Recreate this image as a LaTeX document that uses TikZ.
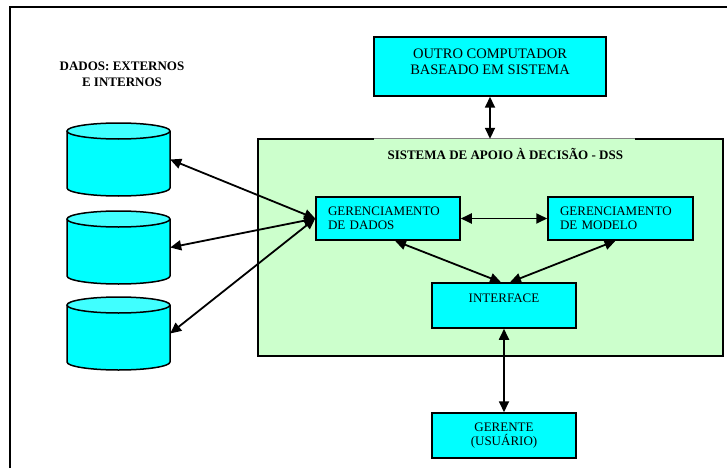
\documentclass[tikz,border=0pt]{standalone}
\usepackage{fontspec}
\setmainfont{Liberation Serif}
\usetikzlibrary{arrows.meta}

\definecolor{ciano}{HTML}{00FFFF}
\definecolor{cianoclaro}{HTML}{40FFFF}
\definecolor{verdeclaro}{HTML}{CCFFCC}

\tikzset{
  caixa/.style={draw, fill=ciano, line width=1.5pt, inner sep=0pt,
    font=\fontsize{13}{14}\selectfont},
  seta/.style={line width=1.8pt,
    {Triangle[length=11pt,width=10pt]}-{Triangle[length=11pt,width=10pt]}},
}

\begin{document}
\begin{tikzpicture}[x=1pt,y=-1pt]
\useasboundingbox (0,0) rectangle (727,468);
% Moldura
\draw[line width=1.5pt] (10,468) -- (10,7) -- (727,7);

% Sistema de apoio (fundo verde)
\node[fill=verdeclaro, minimum width=465, minimum height=217, inner sep=0pt] (dss) at (490.5,247.5) {};
\draw[line width=1.5pt] ([xshift=116]dss.north west) -- (dss.north west) -- (dss.south west)
  -- (dss.south east) -- (dss.north east) -- ([xshift=-88]dss.north east);
\draw[gray, line width=0.8pt] ([xshift=116]dss.north west) -- ([xshift=-88]dss.north east);
\node[font=\bfseries\fontsize{13}{14}\selectfont, anchor=west] (titulo) at (384,154) {SISTEMA DE APOIO À DECISÃO - DSS};

% Dados (esquerda)
\node[font=\bfseries\fontsize{13}{16}\selectfont, align=center] (rotulo) at (122,74) {DADOS: EXTERNOS\\E INTERNOS};
\foreach \n/\t in {1/131,2/219,3/305} {
  \filldraw[fill=ciano, line width=1.5pt] (67,\t) -- (67,\t+57) arc (180:0:51.5 and 8) -- (170,\t);
  \filldraw[fill=cianoclaro, line width=1.5pt] (118.5,\t) ellipse (51.5 and 8);
  \node[minimum width=103, minimum height=57, inner sep=0pt] (db\n) at (118.5,\t+28.5) {};
}

% Caixas
\node[caixa, minimum width=232, minimum height=59, font=\fontsize{14.5}{16}\selectfont, align=center] (outro) at (490,66.5) {OUTRO COMPUTADOR\\BASEADO EM SISTEMA\\[-6pt]\mbox{}};
\node[caixa, minimum width=144, minimum height=43, text width=120, inner xsep=12, align=left] (dados) at (388,218.5) {GERENCIAMENTO\\DE DADOS};
\node[caixa, minimum width=145, minimum height=43, text width=121, inner xsep=12, align=left] (modelo) at (620.5,218.5) {GERENCIAMENTO\\DE MODELO};
\node[caixa, minimum width=144, minimum height=45, align=center] (iface) at (504,305.5) {INTERFACE\\\mbox{}};
\node[caixa, minimum width=144, minimum height=45, align=center] (gerente) at (504,435.5) {GERENTE\\(USUÁRIO)};

% Setas
\foreach \n in {1,2,3}
  \draw[seta] (dados.west) -- (db\n.east);
\draw[seta] (outro.south) -- (outro.south |- dss.north);
\draw[seta] (dados.east) -- (modelo.west);
\draw[seta] ([xshift=7]dados.south) -- ([xshift=-3]iface.north);
\draw[seta] ([xshift=-5]modelo.south) -- ([xshift=6]iface.north);
\draw[seta] (iface.south) -- (gerente.north);
\end{tikzpicture}
\end{document}
